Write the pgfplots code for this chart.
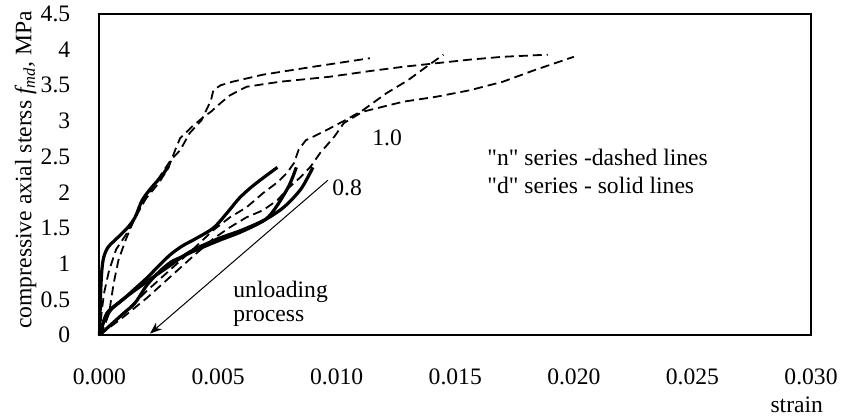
\documentclass[border=0pt]{standalone}
\usepackage{fontspec}
\setmainfont{Liberation Serif}
\newfontfamily\qfont{Liberation Serif}
\usepackage{pgfplots}
\pgfplotsset{compat=1.18}
\usetikzlibrary{arrows.meta}
\begin{document}
\fontsize{11.8}{13.5}\selectfont
\begin{tikzpicture}
\useasboundingbox (-49.75pt,-41pt) rectangle (372.25pt,167.5pt);
\begin{axis}[
  scale only axis, width=355.75pt, height=160.5pt,
  xmin=0, xmax=0.03, ymin=0, ymax=4.5,
  xtick={0,0.005,...,0.0301}, ytick={0,0.5,...,4.51},
  scaled x ticks=false,
  xticklabel style={/pgf/number format/fixed, /pgf/number format/fixed zerofill, /pgf/number format/precision=3, yshift=-13pt},
  /pgf/number format/assume math mode=true,
  major tick length=0pt,
  axis line style={line width=1pt},
  tick label style={font=\fontsize{11.8}{13.5}\selectfont},
  yticklabel style={xshift=-10.5pt},
  clip=false,
]
% dashed n series
\addplot[black, line width=0.9pt, dash pattern=on 4.5pt off 2.5pt] coordinates {
(0,0) (0.0001,0.35) (0.0002,0.6) (0.0004,0.9) (0.0007,1.2) (0.0012,1.45) (0.0016,1.7) (0.0021,2.0) (0.0027,2.3) (0.003,2.45) (0.0034,2.59) (0.0038,2.83) (0.0043,3.01) (0.0045,3.15) (0.0047,3.29) (0.0048,3.43) (0.0051,3.5) (0.0056,3.55) (0.0069,3.65) (0.009,3.76) (0.0114,3.88)};
\addplot[black, line width=0.9pt, dash pattern=on 4.5pt off 2.5pt] coordinates {
(0,0) (0.0002,0.12) (0.0004,0.3) (0.0006,0.73) (0.0008,1.05) (0.0011,1.33) (0.0015,1.65) (0.0019,1.89) (0.0025,2.13) (0.0029,2.34) (0.0032,2.6) (0.0034,2.76) (0.0039,2.92) (0.0044,3.06) (0.0047,3.13) (0.0051,3.25) (0.0055,3.36) (0.0062,3.48) (0.0076,3.55) (0.0097,3.62) (0.0114,3.7) (0.0128,3.76) (0.0142,3.81) (0.0156,3.86) (0.017,3.9) (0.0189,3.93)};
\addplot[black, line width=0.9pt, dash pattern=on 4.5pt off 2.5pt] coordinates {
(0,0) (0.001,0.3) (0.002,0.62) (0.003,0.92) (0.004,1.22) (0.0048,1.47) (0.0055,1.65) (0.0062,1.79) (0.0069,1.99) (0.0075,2.14) (0.0079,2.27) (0.0082,2.41) (0.0084,2.6) (0.0087,2.73) (0.0095,2.86) (0.0103,3.0) (0.0111,3.15) (0.0121,3.39) (0.013,3.57) (0.0137,3.74) (0.0145,3.93)};
\addplot[black, line width=0.9pt, dash pattern=on 4.5pt off 2.5pt] coordinates {
(0,0) (0.001,0.25) (0.002,0.52) (0.003,0.82) (0.004,1.12) (0.0048,1.35) (0.0055,1.51) (0.0062,1.65) (0.0069,1.75) (0.0075,1.89) (0.008,2.07) (0.0085,2.22) (0.0089,2.36) (0.0093,2.55) (0.0099,2.78) (0.0103,2.97) (0.0111,3.13) (0.0128,3.27) (0.0142,3.34) (0.0156,3.43) (0.017,3.55) (0.0184,3.72) (0.02,3.9)};
% solid d series
\addplot[black, line width=1.6pt, smooth] coordinates {
(0,0) (0.00005,0.6) (0.0001,0.91) (0.00018,1.09) (0.00036,1.23) (0.00078,1.37) (0.0012,1.51) (0.0015,1.65) (0.0018,1.89) (0.0022,2.07) (0.0026,2.22) (0.0029,2.36)};
\addplot[black, line width=1.6pt, smooth] coordinates {
(0,0) (0.0002,0.2) (0.0005,0.36) (0.001,0.5) (0.0015,0.65) (0.002,0.8) (0.0025,0.97) (0.003,1.13) (0.0035,1.25) (0.004,1.34) (0.0048,1.5) (0.0054,1.72) (0.0059,1.92) (0.0065,2.1) (0.0075,2.35)};
\addplot[black, line width=1.6pt, smooth] coordinates {
(0,0) (0.0005,0.15) (0.001,0.3) (0.0015,0.45) (0.002,0.7) (0.0025,0.88) (0.003,1.02) (0.0035,1.1) (0.004,1.18) (0.005,1.32) (0.006,1.45) (0.007,1.62) (0.0075,1.82) (0.008,2.1) (0.0083,2.35)};
\addplot[black, line width=1.6pt, smooth] coordinates {
(0,0) (0.0003,0.3) (0.0008,0.45) (0.0013,0.58) (0.0018,0.7) (0.0023,0.82) (0.003,0.98) (0.0035,1.1) (0.004,1.2) (0.005,1.35) (0.006,1.47) (0.007,1.62) (0.0078,1.8) (0.0085,2.05) (0.009,2.35)};
% unloading arrow
\addplot[black, line width=0.5pt, -{Stealth[length=6pt,width=4.5pt]}] coordinates {(0.00963,2.17) (0.00213,0.02)};
\node[anchor=center] at (axis cs:0.01213,2.76) {1.0};
\node[anchor=center] at (axis cs:0.01044,2.06) {0.8};
\node[anchor=base west, inner sep=0pt] at (axis cs:0.00563,0.53) {unloading};
\node[anchor=base west, inner sep=0pt] at (axis cs:0.00563,0.19) {process};
\node[anchor=base west, inner sep=0pt] at (axis cs:0.01634,2.38) {{\qfont"}n{\qfont"} series -dashed lines};
\node[anchor=base west, inner sep=0pt] at (axis cs:0.01634,1.99) {{\qfont"}d{\qfont"} series - solid lines};
\node at (rel axis cs:0.98,-0.218) {strain};
\node[rotate=90, anchor=center] at (rel axis cs:-0.104,0.515) {compressive axial sterss \textit{f\textsubscript{md},} MPa};
\end{axis}
\end{tikzpicture}
\end{document}
